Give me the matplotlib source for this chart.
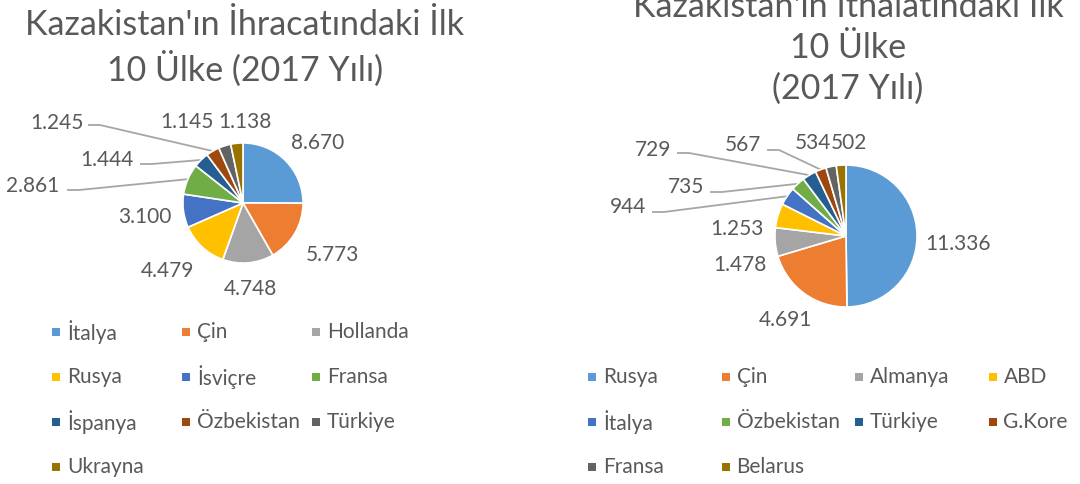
import matplotlib
matplotlib.use("Agg")
import matplotlib.pyplot as plt
from matplotlib.patches import Rectangle
import numpy as np

plt.rcParams['font.family'] = ['Lato', 'DejaVu Sans']

# ---------------- data ----------------
exp_countries = ["İtalya", "Çin", "Hollanda", "Rusya", "İsviçre", "Fransa",
                 "İspanya", "Özbekistan", "Türkiye", "Ukrayna"]
exp_values = [8670, 5773, 4748, 4479, 3100, 2861, 1444, 1245, 1145, 1138]
exp_labels = ["8.670", "5.773", "4.748", "4.479", "3.100", "2.861",
              "1.444", "1.245", "1.145", "1.138"]

imp_countries = ["Rusya", "Çin", "Almanya", "ABD", "İtalya", "Özbekistan",
                 "Türkiye", "G.Kore", "Fransa", "Belarus"]
imp_values = [11336, 4691, 1478, 1253, 944, 735, 729, 567, 534, 502]
imp_labels = ["11.336", "4.691", "1.478", "1.253", "944", "735",
              "729", "567", "534", "502"]

exp_title = "Kazakistan'ın İhracatındaki İlk\n10 Ülke (2017 Yılı)"
imp_title = "Kazakistan'ın İthalatındaki İlk\n10 Ülke\n(2017 Yılı)"

colors = ["#5B9BD5", "#ED7D31", "#A5A5A5", "#FFC000", "#4472C4",
          "#70AD47", "#255E91", "#9E480E", "#636363", "#997300"]
TXT = "#595959"

W, H = 1080, 484
fig = plt.figure(figsize=(W / 100, H / 100), dpi=100)
ax = fig.add_axes([0, 0, 1, 1])
ax.set_xlim(0, W)
ax.set_ylim(0, H)
ax.axis("off")


def Y(y):
    return H - y


def draw_pie(values, labels, center, radius, explode, label_pos, leaders):
    cx, cy = center
    wedges, _ = ax.pie(values, colors=colors, startangle=90, counterclock=False,
                       center=(cx, Y(cy)), radius=radius,
                       explode=[explode] * len(values),
                       wedgeprops=dict(edgecolor="white", linewidth=1.2))
    for i, (lab, pos) in enumerate(zip(labels, label_pos)):
        ax.text(pos[0], Y(pos[1]), lab, ha="center", va="center",
                fontsize=15, color=TXT)
    for i, start in leaders.items():
        w = wedges[i]
        ang = np.deg2rad((w.theta1 + w.theta2) / 2)
        wx, wy = w.center
        px = wx + w.r * np.cos(ang)
        py = wy + w.r * np.sin(ang)
        x0, y0 = start
        ax.plot([x0, x0 + 12, px], [Y(y0), Y(y0), py], color="#A6A6A6",
                lw=1.3, solid_capstyle="butt", zorder=0.5)
    ax.set_xlim(0, W)
    ax.set_ylim(0, H)
    ax.set_aspect("equal")


def draw_legend(names, x0, y0, dx, dy, ncol):
    for i, name in enumerate(names):
        r, c = divmod(i, ncol)
        x = x0 + c * dx
        y = y0 + r * dy
        ax.add_patch(Rectangle((x - 4, Y(y) - 4), 8, 8, color=colors[i], lw=0))
        ax.text(x + 11, Y(y), name, ha="left", va="center", fontsize=15, color=TXT)


# left pie
draw_pie(exp_values, exp_labels, (243, 203), 60, 0.06,
         [(318, 143), (332, 255), (250, 289), (167, 271), (145, 217),
          (33, 186), (107, 160), (57, 123), (187, 122), (245, 122)],
         {5: (67, 190), 6: (140, 164), 7: (88, 125)})

# right pie
draw_pie(imp_values, imp_labels, (846, 236), 71, 0.04,
         [(958, 244), (785, 320), (740, 265), (737, 229), (628, 207),
          (686, 187), (653, 150), (743, 145), (813, 143), (849, 143)],
         {4: (652, 212), 5: (710, 192), 6: (677, 153), 7: (767, 150)})

ax.text(245, Y(48), exp_title, ha="center", va="center", fontsize=24.5,
        color=TXT, linespacing=1.35)
ax.text(848, Y(48), imp_title, ha="center", va="center", fontsize=24.5,
        color=TXT, linespacing=1.35)

draw_legend(exp_countries, 56, 332, 130, 45, 3)
draw_legend(imp_countries, 592, 377, 133.5, 45, 4)

fig.savefig("out.png", dpi=100, facecolor="white")
